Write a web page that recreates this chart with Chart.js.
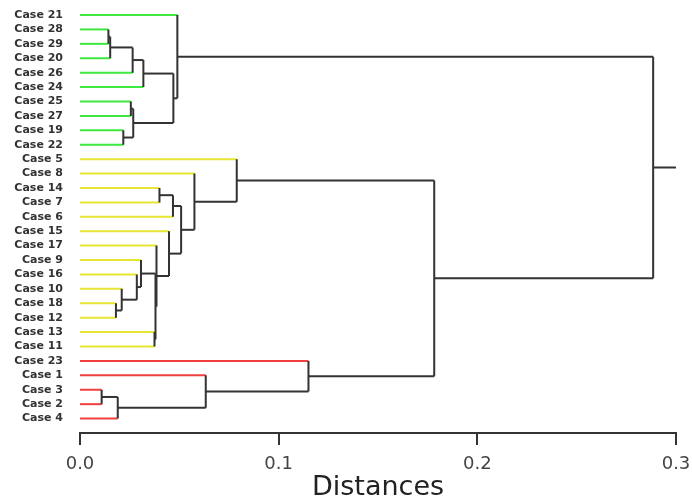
<!DOCTYPE html>
<html><head><meta charset="utf-8">
<script src="https://cdn.jsdelivr.net/npm/chart.js@4.4.1/dist/chart.umd.min.js"></script>
<style>html,body{margin:0;padding:0;background:#fff;} #wrap{width:692px;height:500px;position:relative;}</style>
</head><body><div id="wrap"><canvas id="c"></canvas></div>
<script>
// Leaf order (top to bottom) and cluster membership
const leafLabels = ['Case 21','Case 28','Case 29','Case 20','Case 26','Case 24','Case 25','Case 27','Case 19','Case 22',
  'Case 5','Case 8','Case 14','Case 7','Case 6','Case 15','Case 17','Case 9','Case 16','Case 10','Case 18','Case 12','Case 13','Case 11',
  'Case 23','Case 1','Case 3','Case 2','Case 4'];
const leafCluster = ['g','g','g','g','g','g','g','g','g','g',
  'y','y','y','y','y','y','y','y','y','y','y','y','y','y',
  'r','r','r','r','r'];
// Merges: children are leaf names or indices of earlier merges; heights are distances
const mergeLeft  = ['Case 28',0,1,2,'Case 25','Case 19',4,3,'Case 21',
  'Case 14',9,'Case 18','Case 10','Case 16','Case 9','Case 13',14,'Case 17','Case 15',10,'Case 8','Case 5',
  'Case 3',22,'Case 1','Case 23',21,8];
const mergeRight = ['Case 29','Case 20','Case 26','Case 24','Case 27','Case 22',5,6,7,
  'Case 7','Case 6','Case 12',11,12,13,'Case 11',15,16,17,18,19,20,
  'Case 2','Case 4',23,24,25,26];
const mergeHeight = [0.0143,0.0152,0.0265,0.0319,0.0256,0.0218,0.0268,0.0470,0.0490,
  0.0400,0.0468,0.0181,0.0210,0.0286,0.0307,0.0375,0.0380,0.0385,0.0448,0.0509,0.0576,0.0789,
  0.0109,0.0190,0.0633,0.1150,0.1783,0.2885];
const rootStubEnd = 0.3;
const xTickValues = [0, 0.1, 0.2, 0.3];
const axisTitle = 'Distances';

const clusterColors = {g:'#3ee83e', y:'#e6e633', r:'#f04040'};
const lineDark = '#333333';

function nodeY(n){ return typeof n === 'string' ? leafLabels.indexOf(n) : (nodeY(mergeLeft[n]) + nodeY(mergeRight[n])) / 2; }
function nodeH(n){ return typeof n === 'string' ? 0 : mergeHeight[n]; }

const datasets = [];
function seg(x1,y1,x2,y2,color,order){
  datasets.push({data:[{x:x1,y:y1},{x:x2,y:y2}], showLine:true, borderColor:color, backgroundColor:color,
    borderWidth:2, pointRadius:0, fill:false, clip:false, order:order, borderCapStyle:'butt'});
}
mergeHeight.forEach((h,k)=>{
  const L = mergeLeft[k], R = mergeRight[k];
  [L,R].forEach(c=>{
    const y = nodeY(c);
    if (typeof c === 'string') seg(0,y,h,y,clusterColors[leafCluster[leafLabels.indexOf(c)]],1);
    else seg(nodeH(c),y,h,y,lineDark,0);
  });
  seg(h,nodeY(L),h,nodeY(R),lineDark,0);
});
const root = mergeHeight.length-1;
seg(mergeHeight[root], nodeY(root), rootStubEnd, nodeY(root), lineDark, 0);

new Chart(document.getElementById('c'), {
  type:'scatter',
  data:{datasets},
  options:{
    responsive:true, maintainAspectRatio:false, animation:false, events:[],
    layout:{padding:{top:7.8,right:16,bottom:0,left:0}},
    plugins:{legend:{display:false}, tooltip:{enabled:false}},
    scales:{
      x:{type:'linear', min:0, max:0.3,
        afterBuildTicks:(s)=>{ s.ticks = xTickValues.map(v=>({value:v})); },
        afterFit:(s)=>{ s.height = 67; s.paddingLeft = 0; s.paddingRight = 0; },
        grid:{display:true, drawOnChartArea:false, drawTicks:true, tickLength:12, color:lineDark, lineWidth:2},
        border:{display:true, color:lineDark, width:2},
        ticks:{padding:9, color:'#444', font:{family:'DejaVu Sans', size:18}, callback:(v)=>Number(v).toFixed(1), maxRotation:0, autoSkip:false},
        title:{display:true, text:axisTitle, color:'#222', font:{family:'DejaVu Sans', size:27, lineHeight:1}, padding:{top:0,bottom:-1}}
      },
      y:{type:'linear', reverse:true, min:-0.5, max:29,
        afterBuildTicks:(s)=>{ s.ticks = leafLabels.map((_,i)=>({value:i})); },
        afterFit:(s)=>{ s.width = 80; s.paddingTop = 0; s.paddingBottom = 0; },
        grid:{display:false, drawTicks:false},
        border:{display:false},
        ticks:{padding:17, color:'#333', autoSkip:false, font:{family:'DejaVu Sans', size:11, weight:'bold'}, callback:(v)=>leafLabels[v]}
      }
    }
  }
});
</script>
</body></html>
